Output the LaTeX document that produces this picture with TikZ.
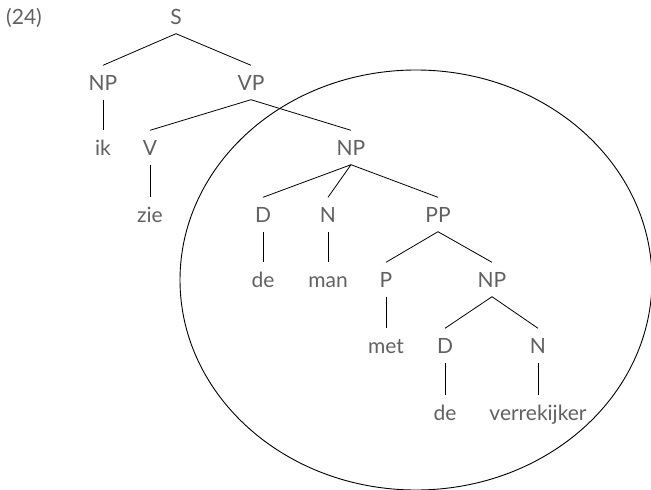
\documentclass[tikz,border=0pt]{standalone}
\usepackage{fontspec}
\setmainfont{Lato}
\begin{document}
\begin{tikzpicture}[x=1pt,y=-1pt,
  lab/.style={font=\fontsize{21}{23}\selectfont, text=black!62, anchor=base,
    text height=15pt, text depth=0pt, inner xsep=1pt, inner ysep=9.5pt},
  edge/.style={draw=black, line width=0.8pt},
  ring/.style={draw=black, line width=0.9pt}]
\useasboundingbox (0,0) rectangle (651,490);
% ellipse
\draw[ring] (416,280) ellipse [x radius=236pt, y radius=210pt];
% label
\node[lab] (num) at (24,24) {(24)};
% nodes
\node[lab] (S) at (176,24) {S};
\node[lab] (NP1) at (103,90) {NP};
\node[lab] (VP) at (251,90) {VP};
\node[lab] (ik) at (103,155) {ik};
\node[lab] (V) at (150,155) {V};
\node[lab] (NP2) at (351,155) {NP};
\node[lab] (zie) at (150,222) {zie};
\node[lab] (D1) at (263,222) {D};
\node[lab] (N1) at (328,222) {N};
\node[lab] (PP) at (438,222) {PP};
\node[lab] (de1) at (263,287) {de};
\node[lab] (man) at (328,287) {man};
\node[lab] (P) at (386,287) {P};
\node[lab] (NP3) at (492,287) {NP};
\node[lab] (met) at (386,353) {met};
\node[lab] (D2) at (445,353) {D};
\node[lab] (N2) at (538,353) {N};
\node[lab] (de2) at (445,420) {de};
\node[lab] (verre) at (538,420) {verrekijker};
% edges
\foreach \a/\b in {S/NP1, S/VP, NP1/ik, VP/V, VP/NP2, V/zie, NP2/D1, NP2/N1, NP2/PP,
  D1/de1, N1/man, PP/P, PP/NP3, P/met, NP3/D2, NP3/N2, D2/de2, N2/verre}
  \draw[edge] (\a.south) -- (\b.north);
\end{tikzpicture}
\end{document}
